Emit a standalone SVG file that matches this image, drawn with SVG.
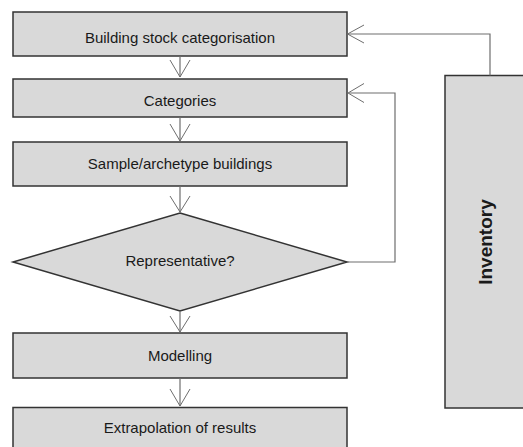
<svg xmlns="http://www.w3.org/2000/svg" width="523" height="447" viewBox="0 0 523 447">
  <style>
    .box { fill: #d9d9d9; stroke: #333333; stroke-width: 1.5; }
    .lbl { font-family: "Liberation Sans", Arial, sans-serif; font-size: 15px; fill: #1a1a1a; text-anchor: middle; }
    .bold { font-weight: bold; font-size: 19px; }
    .wire { fill: none; stroke: #6e6e6e; stroke-width: 1.2; }
    .head { fill: none; stroke: #6e6e6e; stroke-width: 1; }
  </style>
  <rect width="523" height="447" fill="#ffffff"/>

  <g id="stock">
    <rect class="box" x="13" y="12" width="334" height="44"/>
    <text class="lbl" x="180" y="42.5">Building stock categorisation</text>
  </g>
  <g id="categories">
    <rect class="box" x="13" y="79" width="334" height="38"/>
    <text class="lbl" x="180" y="106">Categories</text>
  </g>
  <g id="sample">
    <rect class="box" x="13" y="142" width="334" height="44"/>
    <text class="lbl" x="180" y="169">Sample/archetype buildings</text>
  </g>
  <g id="representative">
    <polygon class="box" points="180,213 347,262 180,311 13,262"/>
    <text class="lbl" x="180" y="266">Representative?</text>
  </g>
  <g id="modelling">
    <rect class="box" x="13" y="333" width="334" height="45"/>
    <text class="lbl" x="180" y="361">Modelling</text>
  </g>
  <g id="extrapolation">
    <rect class="box" x="13" y="407.5" width="334" height="60"/>
    <text class="lbl" x="180" y="432.5">Extrapolation of results</text>
  </g>
  <g id="inventory">
    <rect class="box" x="445" y="75.5" width="90" height="332.5"/>
    <text class="lbl bold" transform="translate(492,242) rotate(-90)" x="0" y="0">Inventory</text>
  </g>

  <g id="connectors">
    <!-- straight flow down the left column -->
    <line class="wire" x1="180" y1="56" x2="180" y2="77"/>
    <polyline class="head" points="170,60 180,77 190,60"/>
    <line class="wire" x1="180" y1="117" x2="180" y2="141"/>
    <polyline class="head" points="170,124 180,141 190,124"/>
    <line class="wire" x1="180" y1="186" x2="180" y2="212"/>
    <polyline class="head" points="170,196 180,212 190,196"/>
    <line class="wire" x1="180" y1="311" x2="180" y2="332"/>
    <polyline class="head" points="170,316 180,332 190,316"/>
    <line class="wire" x1="180" y1="378" x2="180" y2="406"/>
    <polyline class="head" points="170,389 180,406 190,389"/>

    <!-- feedback from the decision back to the categories -->
    <polyline class="wire" points="347,262 395,262 395,93 349,93"/>
    <polyline class="head" points="364,83.5 348,93 364,102.5"/>

    <!-- inventory feeds the stock categorisation -->
    <polyline class="wire" points="490,75.5 490,34 348,34"/>
    <polyline class="head" points="364,25 347.5,34 364,43"/>
  </g>
</svg>
